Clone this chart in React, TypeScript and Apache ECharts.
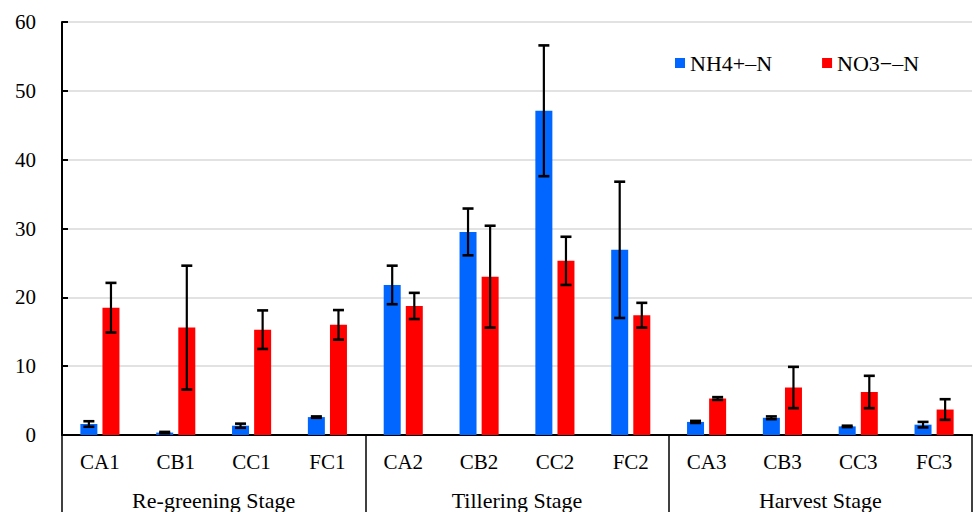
import React, { useEffect, useRef } from "react";
import * as echarts from "echarts";

const categories = ["CA1", "CB1", "CC1", "FC1", "CA2", "CB2", "CC2", "FC2", "CA3", "CB3", "CC3", "FC3"];
const stages = ["Re-greening Stage", "Tillering Stage", "Harvest Stage"];
const nh4Mean = [1.6, 0.35, 1.35, 2.6, 21.8, 29.5, 47.1, 26.9, 1.9, 2.5, 1.25, 1.5];
const nh4Err = [0.4, 0.1, 0.3, 0.1, 2.8, 3.4, 9.5, 9.9, 0.15, 0.2, 0.1, 0.4];
const no3Mean = [18.5, 15.6, 15.3, 16.0, 18.75, 23.0, 25.3, 17.4, 5.3, 6.9, 6.25, 3.7];
const no3Err = [3.6, 9.0, 2.8, 2.15, 1.9, 7.4, 3.5, 1.8, 0.2, 3.0, 2.35, 1.5];
const seriesNames = ["NH4+–N", "NO3−–N"];

const FONT = '"Liberation Serif", "Times New Roman", serif';
const BAR_W = 17;
const GAP = 5.1;

function errSeries(mean: number[], err: number[], offset: number) {
  return {
    type: "custom",
    xAxisIndex: 0,
    yAxisIndex: 0,
    silent: true,
    z: 10,
    data: mean.map((m, i) => [i, m, err[i]]),
    encode: { x: 0, y: 1 },
    renderItem: (params: any, api: any) => {
      const i = api.value(0);
      const m = api.value(1);
      const e = api.value(2);
      const hi = api.coord([i, m + e]);
      const lo = api.coord([i, m - e]);
      const x = hi[0] + offset;
      const cap = 5.5;
      const st = { stroke: "#000", lineWidth: 2.2 };
      const capSt = { stroke: "#000", lineWidth: 2.6 };
      return {
        type: "group",
        children: [
          { type: "line", shape: { x1: x, y1: hi[1], x2: x, y2: lo[1] }, style: st },
          { type: "line", shape: { x1: x - cap, y1: hi[1], x2: x + cap, y2: hi[1] }, style: capSt },
          { type: "line", shape: { x1: x - cap, y1: lo[1], x2: x + cap, y2: lo[1] }, style: capSt },
        ],
      };
    },
  };
}

export default function App() {
  const ref = useRef<HTMLDivElement>(null);
  useEffect(() => {
    if (!ref.current) return;
    const chart = echarts.init(ref.current, null, { renderer: "svg" });
    const off = (BAR_W + GAP) / 2;
    chart.setOption({
      animation: false,
      textStyle: { fontFamily: FONT, color: "#000" },
      grid: { left: 62, right: 2, top: 22, bottom: 77, containLabel: false },
      legend: {
        data: seriesNames,
        left: 670,
        top: 47,
        itemWidth: 10,
        itemHeight: 10,
        itemGap: 50,
        icon: "rect",
        textStyle: { fontFamily: FONT, fontSize: 22, color: "#000" },
      },
      xAxis: [
        {
          type: "category",
          data: categories,
          position: "bottom",
          axisLine: { lineStyle: { color: "#000", width: 2 } },
          axisTick: { show: false },
          axisLabel: { fontFamily: FONT, fontSize: 21, color: "#000", margin: 16 },
        },
        {
          type: "category",
          data: stages,
          position: "bottom",
          axisLine: { show: false },
          axisTick: { show: true, length: 80, lineStyle: { color: "#000", width: 1.5 } },
          axisLabel: { fontFamily: FONT, fontSize: 22, color: "#000", margin: 54 },
        },
      ],
      yAxis: {
        type: "value",
        min: 0,
        max: 60,
        interval: 10,
        axisLine: { show: true, lineStyle: { color: "#000", width: 2 } },
        axisTick: { show: true, inside: true, length: 6, lineStyle: { color: "#000", width: 2 } },
        axisLabel: { fontFamily: FONT, fontSize: 21, color: "#000", margin: 26 },
        splitLine: { show: true, lineStyle: { color: "#d9d9d9", width: 1.5 } },
      },
      series: [
        {
          name: seriesNames[0],
          type: "bar",
          data: nh4Mean,
          barWidth: BAR_W,
          barGap: "30%",
          itemStyle: { color: "#0066ff" },
        },
        {
          name: seriesNames[1],
          type: "bar",
          data: no3Mean,
          barWidth: BAR_W,
          barGap: "30%",
          itemStyle: { color: "#ff0000" },
        },
        errSeries(nh4Mean, nh4Err, -off),
        errSeries(no3Mean, no3Err, off),
      ],
    });
    return () => chart.dispose();
  }, []);
  return <div ref={ref} style={{ width: 974, height: 512, position: "absolute", left: 0, top: 0 }} />;
}
